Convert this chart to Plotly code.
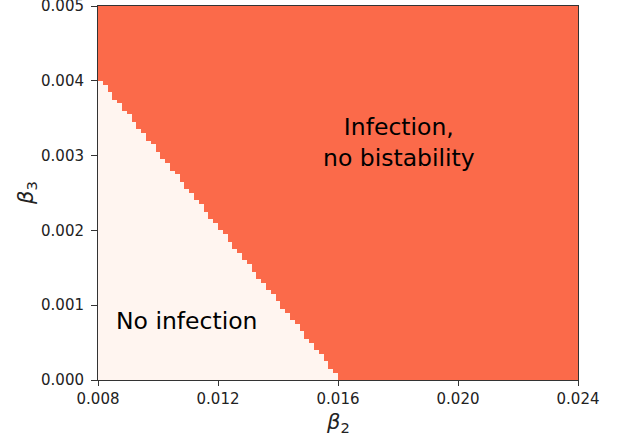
import numpy as np
import plotly.graph_objects as go

# Parameter grid (beta2 along x, beta3 along y)
beta2_min, beta2_max, n_beta2 = 0.008, 0.024, 100
beta3_min, beta3_max, n_beta3 = 0.0, 0.005, 100

# Number of "no infection" rows (from beta3 = 0 upward) in each beta2 column
no_infection_rows = [80, 79, 77, 75, 74, 72, 71, 69, 67, 66, 64, 63, 61, 59, 58, 56, 55, 53, 51, 50,
                     48, 47, 45, 43, 42, 40, 39, 37, 35, 34, 32, 31, 29, 27, 26, 24, 23, 21, 19, 18,
                     16, 15, 13, 11, 10, 8, 7, 5, 3, 2, 0]

x_ticks = [0.008, 0.012, 0.016, 0.020, 0.024]
y_ticks = [0.000, 0.001, 0.002, 0.003, 0.004, 0.005]
region_labels = ["No infection", "Infection,<br>no bistability"]

dx = (beta2_max - beta2_min) / n_beta2
dy = (beta3_max - beta3_min) / n_beta3
x_centers = beta2_min + dx * (np.arange(n_beta2) + 0.5)
y_centers = beta3_min + dy * (np.arange(n_beta3) + 0.5)

z = np.ones((n_beta3, n_beta2))
for i, k in enumerate(no_infection_rows):
    z[:k, i] = 0

fig = go.Figure()
fig.add_trace(go.Heatmap(
    x=x_centers, y=y_centers, z=z,
    colorscale=[[0, "#FFF5F0"], [1, "#FB6A4A"]],
    zmin=0, zmax=1, showscale=False, hoverinfo="skip"))

font = "DejaVu Sans"
fig.add_annotation(x=0.01095, y=0.00079, text=region_labels[0], showarrow=False,
                   font=dict(family=font, size=23.5, color="black"))
fig.add_annotation(x=0.01803, y=0.00318, text=region_labels[1], showarrow=False,
                   font=dict(family=font, size=23.5, color="black"))

# Axis titles
fig.add_annotation(xref="paper", yref="paper", x=0.5, y=-0.115, yanchor="middle",
                   text="<i>β</i><sub>2</sub>", showarrow=False,
                   font=dict(family=font, size=21, color="#222"))
fig.add_annotation(xref="paper", yref="paper", x=-0.148, y=0.5, xanchor="center",
                   text="<i>β</i><sub>3</sub>", showarrow=False, textangle=-90,
                   font=dict(family=font, size=21, color="#222"))

axis_common = dict(showline=True, linecolor="#333", linewidth=1, mirror=True, automargin=False,
                   ticks="outside", tickcolor="#333", showgrid=False, zeroline=False,
                   ticklabeloverflow="allow",
                   tickfont=dict(family=font, size=15, color="#222"))
fig.update_xaxes(range=[beta2_min, beta2_max * 1.0000001], tickvals=x_ticks, ticklen=5,
                 ticktext=[f"{v:.3f}" for v in x_ticks], **axis_common)
fig.update_yaxes(range=[beta3_min, beta3_max * 1.0000001], tickvals=y_ticks, ticklen=6,
                 ticklabelstandoff=4,
                 ticktext=[f"{v:.3f}" for v in y_ticks], **axis_common)

fig.update_layout(width=629, height=440, margin=dict(l=98, r=51, t=6, b=60),
                  plot_bgcolor="white", paper_bgcolor="white")
fig.write_html("out.html", config={"displayModeBar": False},
               post_script="document.body.style.margin='0';document.body.style.padding='0';")
